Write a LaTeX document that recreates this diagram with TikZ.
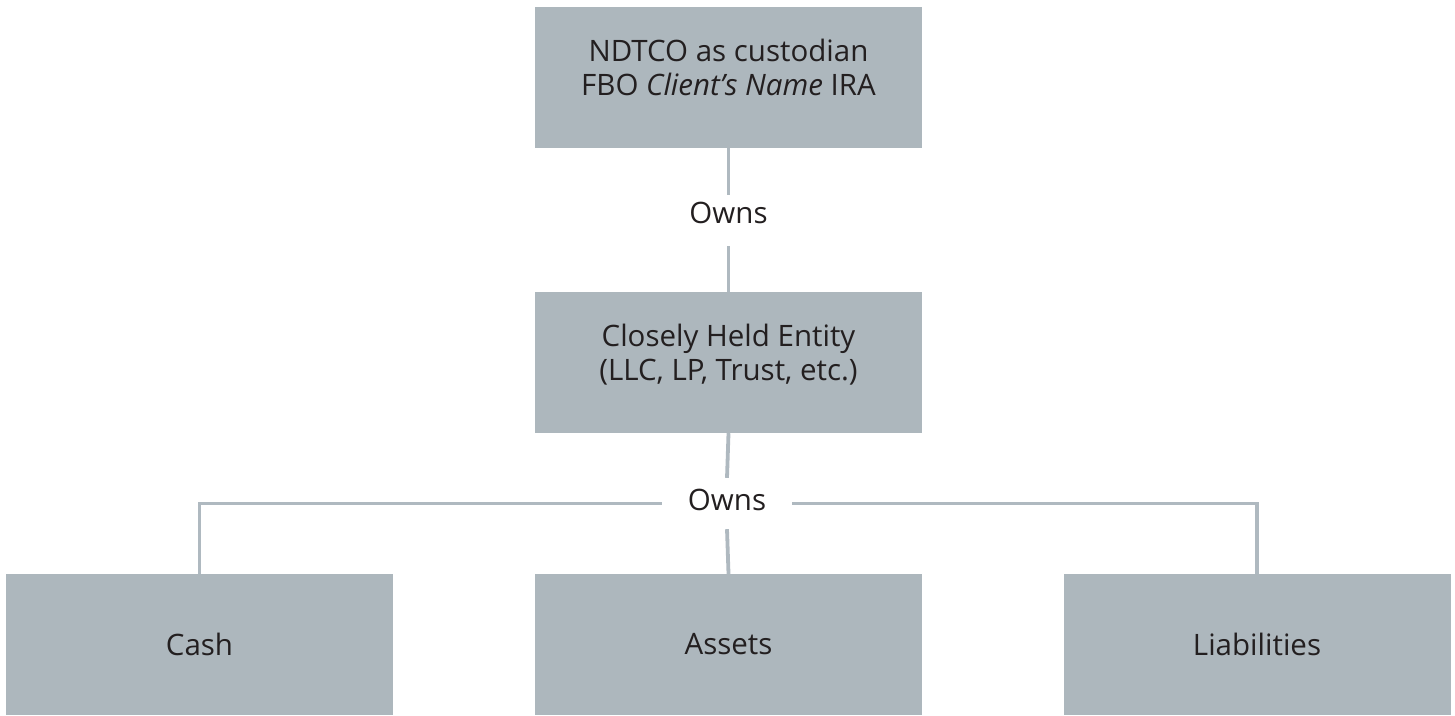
\documentclass[tikz,border=0pt]{standalone}
\usepackage{fontspec}
\setmainfont{Open Sans}

\definecolor{boxgray}{HTML}{ADB7BD}
\definecolor{linegray}{HTML}{AFB9C0}
\definecolor{inkdark}{HTML}{231F20}

\tikzset{
  entity/.style={fill=boxgray, draw=none, text=inkdark, align=center, inner sep=0pt,
    minimum width=387pt, minimum height=141pt, font=\fontsize{29.5}{34}\selectfont},
  ownslabel/.style={text=inkdark, inner sep=0pt, minimum width=130pt, minimum height=51pt,
    font=\fontsize{29.5}{34}\selectfont},
  link/.style={linegray, line width=3.8pt}
}

\begin{document}
\begin{tikzpicture}[x=1pt, y=-1pt]
\useasboundingbox (0,0) rectangle (1455,715);

% boxes
\node[entity, text depth=20pt] (custodian) at (728.5,77.5) {NDTCO as custodian\\FBO \textit{Client’s Name} IRA};
\node[entity, text depth=20pt] (entity) at (728.5,362.5) {Closely Held Entity\\(LLC, LP, Trust, etc.)};
\node[entity] (cash) at (199.5,644.5) {Cash};
\node[entity] (assets) at (728.5,644.5) {Assets};
\node[entity] (liab) at (1257,644.5) {Liabilities};

% labels on the links
\node[ownslabel, text depth=16pt] (owns1) at (728.5,220.5) {Owns};
\node[ownslabel, text depth=7pt] (owns2) at (727,503.5) {Owns};

\draw[link] (custodian.south) -- (owns1.north);
\draw[link] (owns1.south) -- (entity.north);
\draw[link] (entity.south) -- (owns2.north);
\draw[link] (owns2.south) -- (assets.north);
\draw[link] (owns2.west) -| (cash.north);
\draw[link] (owns2.east) -| (liab.north);

\end{tikzpicture}
\end{document}
